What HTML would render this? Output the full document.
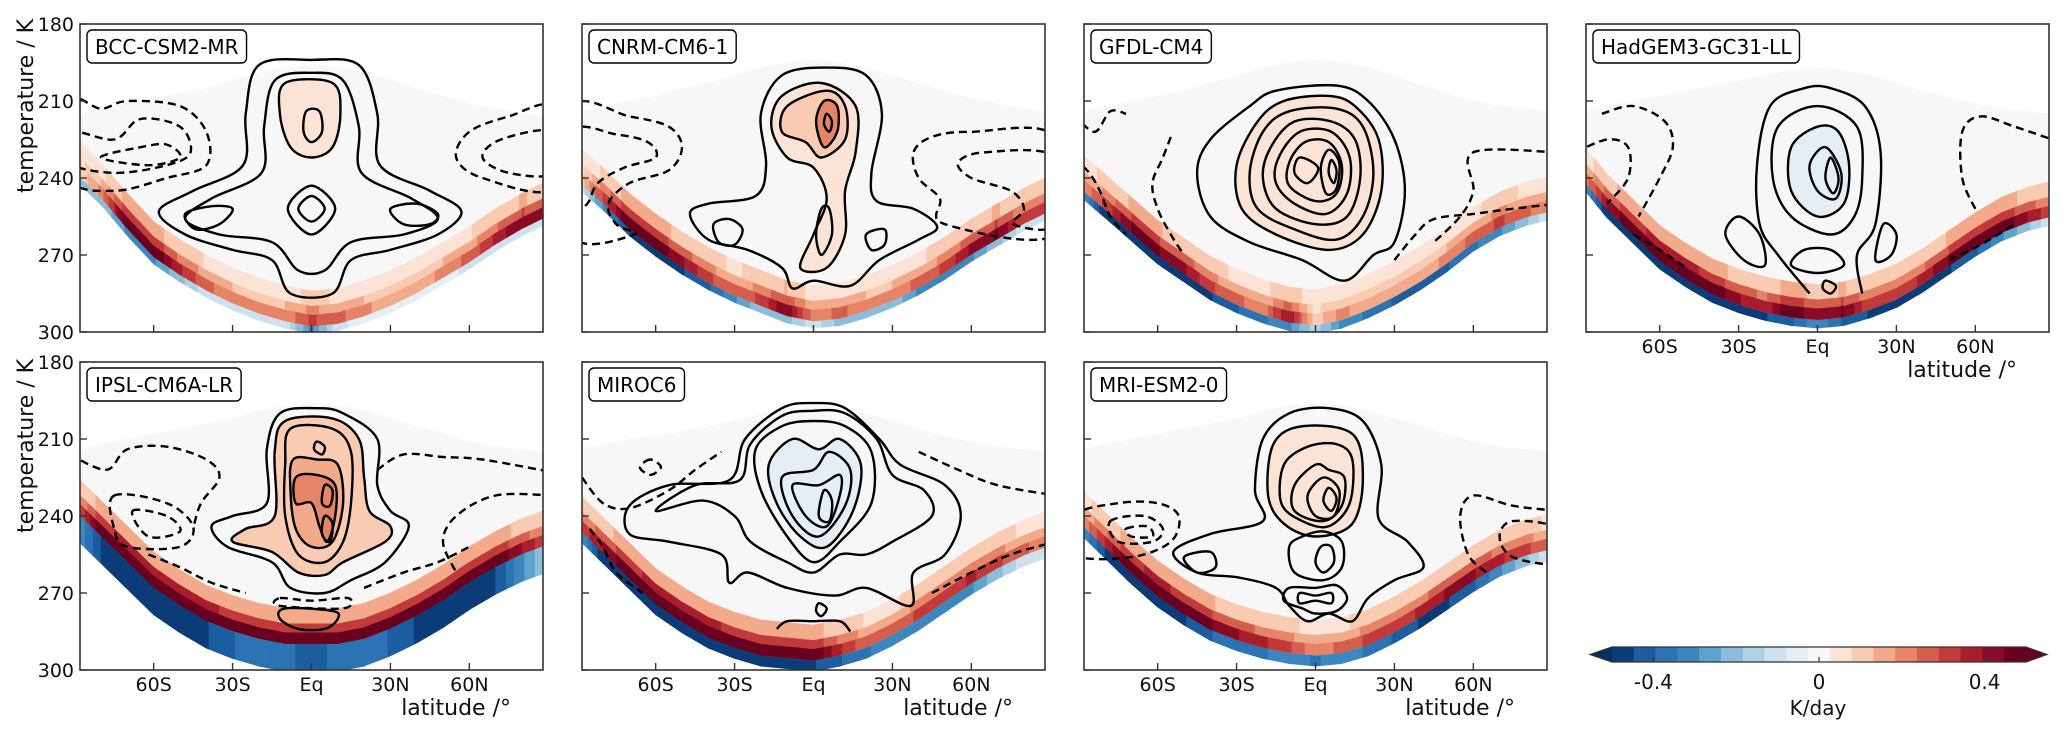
<!DOCTYPE html>
<html><head><meta charset="utf-8"><title>Heating rate by latitude and temperature for seven climate models</title>
<style>
html,body{margin:0;padding:0;background:#fff;}
svg{display:block;font-family:"DejaVu Sans","Liberation Sans",sans-serif;}
</style></head>
<body>
<svg id="fig" width="2067" height="737" viewBox="0 0 2067 737" xmlns="http://www.w3.org/2000/svg"></svg>
<script>
// ===== shared axes data =====
const lats = [-88,-80,-70,-60,-50,-40,-30,-20,-10,0,10,20,30,40,50,60,70,80,88];
const yTickValues = [180,210,240,270,300];
const xTickValues = [-60,-30,0,30,60];
const xTickLabels = ["60S","30S","Eq","30N","60N"];
const cbarTickValues = [-0.4,0,0.4];
const cbarTickLabels = ["-0.4","0","0.4"];
const binColors = ['#0b3c77','#1c5d9f','#2c73b3','#3d87bf','#5ea3cd','#8bbdda','#aed1e5','#cde2ee','#e4eef4','#f7f7f7','#fbe3d6','#f8cbb2','#f2aa8a','#e58467','#d45f4e','#c13b3a','#a91d2d','#8a0b25','#6a0020'];

// ===== BCC-CSM2-MR =====
const bccSurf = [242,250,262,273,280,286,291,295,298,300,299,296,292,287,281,275,268,262,258];
const bccTop  = [215,213,211,209,207,205,202,199,197,196,197,199,202,205,208,211,213,215,216];
const bccRed  = [0.1,0.2,0.5,0.5,0.35,0.25,0.2,0.2,0.2,0.3,0.25,0.2,0.15,0.15,0.2,0.25,0.35,0.45,0.4];
const bccBlue = [-0.2,-0.2,-0.3,-0.3,-0.2,-0.1,-0.1,-0.1,-0.1,-0.3,-0.1,-0.05,-0.05,-0.05,-0.05,-0.1,-0.1,-0.1,-0.1];
const bccSolid = [
 [[-20,196],[-25,215],[-26,235],[-45,245],[-58,253],[-48,262],[-30,268],[-15,272],[-8,285],[8,285],[15,272],[30,268],[48,262],[57,253],[45,245],[26,235],[25,215],[18,196],[0,194]],
 [[-14,202],[-18,220],[-19,238],[-38,248],[-48,256],[-35,262],[-15,265],[-5,276],[5,276],[15,265],[35,262],[48,256],[38,248],[19,238],[18,220],[12,202],[0,199]],
 [[-10,203],[-12,215],[-8,228],[0,232],[8,228],[11,215],[8,203]],
 [[-2,214],[-3,222],[0,226],[4,222],[3,214]],
 [[0,243],[-9,252],[0,262],[9,252]],
 [[0,247],[-5,252],[0,257],[5,252]],
 [[-48,254],[-44,260],[-35,258],[-30,252],[-38,251]],
 [[30,252],[35,258],[45,258],[48,254],[40,250]]];
const bccDashed = [
 [[-92,210],[-80,213],[-70,210],[-50,212],[-40,222],[-40,235],[-55,240],[-75,245],[-92,240]],
 [[-92,222],[-75,225],[-65,217],[-50,220],[-46,230],[-55,235],[-75,238],[-92,234]],
 [[-80,232],[-65,228],[-55,227],[-50,232],[-62,235]],
 [[92,213],[75,216],[60,222],[55,232],[65,240],[92,244]],
 [[92,222],[72,225],[65,232],[75,238],[92,238]]];
const bccFill = [[2,0.06]];

// ===== CNRM-CM6-1 =====
const cnrmSurf = [245,252,262,270,277,283,288,292,296,298,297,294,290,285,279,272,266,260,256];
const cnrmTop  = [214,212,210,208,205,203,200,197,195,194,195,197,200,203,206,209,211,213,214];
const cnrmRed  = [0.1,0.3,0.5,0.5,0.4,0.3,0.25,0.3,0.45,0.2,0.25,0.2,0.2,0.25,0.3,0.4,0.45,0.3,0.3];
const cnrmBlue = [-0.1,-0.3,-0.45,-0.45,-0.45,-0.4,-0.3,-0.2,-0.2,-0.1,-0.2,-0.2,-0.2,-0.3,-0.3,-0.3,-0.2,-0.1,-0.1];
const cnrmSolid = [
 [[5,197],[-12,200],[-20,215],[-18,235],[-22,247],[-40,250],[-47,254],[-40,264],[-25,268],[-12,275],[-8,283],[0,280],[14,282],[25,272],[40,264],[47,259],[38,252],[24,249],[22,238],[26,215],[20,200]],
 [[3,203],[-12,208],[-16,220],[-10,232],[0,236],[5,248],[0,262],[-5,275],[5,275],[12,262],[12,245],[16,230],[16,212]],
 [[-10,212],[-12,222],[-3,226],[3,232],[12,225],[12,212],[5,206]],
 [[4,210],[1,218],[4,228],[9,222],[9,212]],
 [[5,215],[4,219],[6,222],[7,218]],
 [[3,252],[1,262],[3,270],[7,262],[6,252]],
 [[-38,258],[-36,265],[-30,266],[-27,260],[-32,256]],
 [[20,262],[22,268],[27,266],[27,260]]];
const cnrmDashed = [
 [[-92,213],[-70,216],[-55,220],[-50,228],[-55,237],[-70,242],[-78,250],[-75,258],[-68,262],[-92,262]],
 [[-92,222],[-75,223],[-63,226],[-60,232],[-72,236],[-82,242],[-86,250],[-92,252]],
 [[92,224],[60,222],[45,224],[38,230],[40,240],[48,248],[50,258],[92,262]],
 [[92,232],[65,230],[55,234],[60,240],[75,245],[80,252],[76,258],[92,258]]];
const cnrmFill = [[1,0.06],[2,0.12],[3,0.2]];

// ===== GFDL-CM4 =====
const gfdlSurf = [248,255,264,273,280,287,292,296,299,300,298,294,289,283,276,268,262,258,256];
const gfdlTop  = [214,212,210,208,206,203,200,197,195,194,195,197,200,204,207,210,212,213,214];
const gfdlRed  = [0.2,0.3,0.45,0.45,0.4,0.3,0.25,0.2,0.4,0.1,0.2,0.15,0.15,0.15,0.2,0.25,0.3,0.25,0.2];
const gfdlBlue = [-0.3,-0.5,-0.5,-0.5,-0.5,-0.45,-0.4,-0.35,-0.3,-0.15,-0.3,-0.35,-0.4,-0.4,-0.4,-0.35,-0.3,-0.2,-0.1];
const gfdlSolid = [
 [[-15,206],[-25,212],[-40,225],[-45,238],[-40,255],[-25,265],[-5,272],[11,280],[22,270],[30,265],[34,245],[30,225],[20,210],[8,204]],
 [[-12,210],[-22,218],[-30,235],[-28,252],[-15,262],[5,268],[18,262],[25,245],[24,225],[15,212],[5,208]],
 [[-10,214],[-20,222],[-25,238],[-22,252],[-8,260],[8,264],[18,255],[22,238],[18,220],[8,213]],
 [[-8,218],[-17,228],[-20,240],[-15,252],[0,258],[12,255],[17,240],[15,225],[6,218]],
 [[-6,222],[-14,232],[-15,242],[-8,250],[4,254],[12,246],[13,232],[6,222]],
 [[-4,226],[-10,234],[-10,243],[0,249],[8,246],[10,235],[5,226]],
 [[-6,232],[-8,238],[-3,242],[1,236]],
 [[5,229],[2,236],[4,246],[8,244],[9,234]],
 [[6,233],[5,238],[7,242],[8,237]]];
const gfdlDashed = [
 [[-92,215],[-84,222],[-78,214],[-72,215]],
 [[-92,232],[-86,238],[-82,245],[-78,255],[-72,262]],
 [[-55,224],[-58,232],[-62,242],[-60,252],[-55,262],[-50,270]],
 [[30,272],[38,262],[45,256],[60,254],[75,252],[92,250]],
 [[92,230],[60,230],[60,245],[55,255],[45,265]]];
const gfdlFill = [[1,0.06]];

// ===== HadGEM3-GC31-LL =====
const hadSurf = [245,255,265,275,282,288,292,295,297,298,297,294,290,284,277,270,264,260,258];
const hadTop  = [214,212,210,208,206,204,202,200,198,197,198,200,203,206,209,211,213,214,215];
const hadRed  = [0.2,0.4,0.5,0.55,0.55,0.5,0.4,0.35,0.5,0.4,0.45,0.3,0.3,0.35,0.45,0.5,0.5,0.4,0.3];
const hadBlue = [-0.3,-0.5,-0.5,-0.5,-0.5,-0.5,-0.5,-0.45,-0.4,-0.3,-0.4,-0.45,-0.5,-0.5,-0.45,-0.4,-0.3,-0.2,-0.1];
const hadSolid = [
 [[0,212],[-15,220],[-17,240],[-10,255],[5,262],[14,255],[17,240],[15,220]],
 [[0,220],[-10,228],[-10,245],[0,255],[10,250],[12,235],[8,222]],
 [[3,228],[-3,235],[0,245],[7,248],[9,238]],
 [[5,232],[3,240],[6,246],[8,240]],
 [[-30,255],[-35,262],[-28,272],[-20,274],[-22,262]],
 [[-5,268],[-10,274],[0,277],[10,274],[5,268]],
 [[3,280],[2,283],[5,285],[7,282]],
 [[25,258],[22,272],[28,270],[30,262]]];
const hadSolidOpen = [
 [[-3,285],[-15,270],[-22,258],[-23,235],[-18,212],[-5,205],[5,205],[18,212],[24,230],[22,258],[15,270],[17,285]]];
const hadDashed = [
 [[-82,215],[-70,212],[-58,218],[-55,228],[-60,240],[-68,255]],
 [[-92,230],[-80,225],[-72,228],[-72,240],[-80,250]],
 [[-70,262],[-60,268],[-50,275]],
 [[60,252],[55,240],[55,222],[62,216],[75,220],[92,226]],
 [[50,272],[62,266],[75,258]]];
const hadFill = [[1,-0.06]];

// ===== IPSL-CM6A-LR =====
const ipslSurf = [250,258,268,278,285,291,295,298,300,300,300,298,294,289,283,276,270,265,262];
const ipslTop  = [214,212,210,208,206,204,202,199,197,196,197,199,202,205,208,211,213,214,215];
const ipslRed  = [0.3,0.5,0.55,0.55,0.55,0.55,0.5,0.5,0.5,0.45,0.5,0.5,0.5,0.5,0.5,0.5,0.5,0.4,0.3];
const ipslBlue = [-0.3,-0.45,-0.5,-0.5,-0.5,-0.45,-0.4,-0.35,-0.35,-0.45,-0.35,-0.35,-0.4,-0.45,-0.5,-0.5,-0.45,-0.3,-0.2];
const ipslSolid = [
 [[-12,200],[-17,214],[-17,235],[-30,240],[-38,244],[-32,252],[-15,258],[-8,268],[5,270],[15,265],[28,258],[37,244],[30,238],[25,228],[25,210],[12,200],[2,198]],
 [[-10,203],[-14,215],[-14,240],[-25,245],[-30,250],[-15,254],[-5,262],[5,263],[12,258],[28,250],[30,244],[22,238],[20,225],[18,210],[8,202]],
 [[-8,206],[-10,220],[-10,240],[-5,255],[5,258],[12,250],[15,235],[15,215],[8,206]],
 [[-7,218],[-8,230],[-6,245],[0,252],[8,250],[12,235],[10,220],[2,218]],
 [[-6,225],[-6,235],[0,235],[3,244],[6,250],[9,240],[9,228],[2,224]],
 [[2,211],[1,214],[4,216],[5,213]],
 [[5,228],[4,235],[7,236],[8,230]],
 [[5,240],[4,247],[7,250],[8,243]],
 [[-10,276],[-12,280],[-5,284],[5,284],[10,280],[8,277]]];
const ipslDashed = [
 [[-75,232],[-55,235],[-45,244],[-50,252],[-70,252],[-75,245]],
 [[-68,238],[-55,240],[-50,246],[-62,248]],
 [[-12,272],[0,273],[14,272],[12,276],[-12,275]]];
const ipslDashedOpen = [
 [[-92,216],[-78,222],[-70,214],[-55,213],[-40,218],[-35,225],[-42,235],[-45,245]],
 [[25,222],[35,216],[50,217],[65,218],[92,223]],
 [[92,232],[70,232],[55,240],[50,250],[55,262]],
 [[-62,255],[-50,260],[-38,266],[-25,270]],
 [[20,268],[35,262],[48,258],[60,252]]];
const ipslFill = [[1,0.1],[3,0.17],[4,0.23]];

// ===== MIROC6 =====
const mirocSurf = [250,258,268,278,285,291,295,298,299,300,298,295,290,284,277,270,264,259,256];
const mirocTop  = [214,212,210,209,207,205,203,200,198,197,198,200,203,206,209,211,213,214,215];
const mirocRed  = [0.3,0.4,0.5,0.55,0.55,0.55,0.5,0.5,0.5,0.5,0.35,0.25,0.25,0.3,0.3,0.35,0.3,0.25,0.2];
const mirocBlue = [-0.3,-0.5,-0.5,-0.5,-0.5,-0.5,-0.5,-0.5,-0.5,-0.45,-0.4,-0.35,-0.3,-0.3,-0.3,-0.3,-0.2,-0.1,-0.1];
const mirocSolid = [
 [[-70,236],[-55,228],[-32,226],[-26,210],[-12,198],[0,196],[12,198],[25,210],[33,220],[50,228],[56,240],[50,255],[38,262],[37,275],[20,268],[8,271],[-10,268],[-25,262],[-32,266],[-35,255],[-55,250],[-70,247]],
 [[-60,238],[-42,234],[-30,240],[-24,250],[-10,258],[0,262],[10,255],[20,255],[30,250],[45,240],[42,230],[30,224],[24,210],[12,200],[0,199],[-12,201],[-24,212],[-28,226],[-45,228]],
 [[-22,214],[-20,230],[-10,248],[0,258],[10,250],[22,235],[22,215],[12,205],[0,203],[-12,205]],
 [[-17,220],[-14,235],[-5,248],[5,252],[15,238],[18,220],[10,210],[2,214],[-8,210]],
 [[-12,225],[-8,240],[2,248],[12,236],[14,222],[6,215],[0,222]],
 [[-8,228],[-3,240],[5,244],[10,232],[10,224],[2,228]],
 [[4,230],[2,240],[6,242],[7,234]],
 [[2,274],[1,277],[3,279],[5,276]]];
const mirocSolidOpen = [ [[-14,284],[-10,281],[0,281],[10,281],[14,285]] ];
const mirocDashed = [ [[-62,218],[-66,221],[-62,224],[-58,221]] ];
const mirocDashedOpen = [
 [[-88,225],[-80,235],[-70,237],[-55,230],[-45,222],[-35,215]],
 [[-85,245],[-80,252],[-75,262],[-65,270]],
 [[40,215],[55,222],[70,228],[92,232]],
 [[45,270],[60,262],[75,255],[92,250]]];
const mirocFill = [[3,-0.07],[4,-0.07]];

// ===== MRI-ESM2-0 =====
const mriSurf = [248,256,266,275,282,288,292,295,297,298,297,294,289,283,276,269,263,259,257];
const mriTop  = [214,212,210,208,206,204,202,199,197,196,197,199,202,205,208,211,213,214,215];
const mriRed  = [0.2,0.35,0.5,0.55,0.5,0.45,0.4,0.35,0.3,0.2,0.25,0.3,0.3,0.35,0.4,0.4,0.35,0.3,0.25];
const mriBlue = [-0.3,-0.45,-0.5,-0.5,-0.45,-0.4,-0.35,-0.35,-0.3,-0.35,-0.3,-0.35,-0.4,-0.45,-0.45,-0.4,-0.3,-0.2,-0.1];
const mriSolid = [
 [[-10,200],[-20,210],[-23,230],[-20,242],[-40,247],[-54,254],[-45,262],[-29,264],[-15,268],[-10,275],[-3,281],[5,278],[14,281],[20,272],[30,265],[41,260],[35,250],[24,241],[25,220],[18,203],[5,198]],
 [[-5,205],[-16,212],[-18,232],[-12,243],[0,248],[14,243],[18,225],[14,208]],
 [[-3,213],[-12,220],[-13,235],[-5,242],[5,244],[13,235],[14,218],[8,212]],
 [[0,220],[-8,228],[-8,238],[3,242],[10,236],[11,225],[5,222]],
 [[3,225],[-3,232],[0,240],[7,240],[9,230]],
 [[5,229],[3,234],[6,238],[8,233]],
 [[-5,248],[-10,252],[-8,262],[3,265],[10,260],[10,250],[3,246]],
 [[2,252],[0,258],[3,262],[7,258],[6,252]],
 [[-50,256],[-45,262],[-38,260],[-40,254]],
 [[-10,268],[-12,273],[-5,276],[0,278],[8,277],[12,272],[8,267],[0,268]],
 [[-6,270],[-6,274],[0,273],[6,274],[6,270],[0,271]]];
const mriDashed = [
 [[-92,240],[-75,235],[-60,235],[-52,240],[-55,250],[-70,256],[-92,255]],
 [[-78,242],[-65,240],[-58,245],[-62,250],[-75,250]],
 [[-72,245],[-64,244],[-62,248],[-70,248]],
 [[92,245],[75,242],[70,248],[75,256],[92,258]]];
const mriDashedOpen = [ [[92,238],[75,236],[60,232],[55,240],[58,255],[65,262]] ];
const mriFill = [[1,0.06]];

// ===== layout (not data) =====
const PW = 463, PH = 308;
const colX = [80,582,1084,1586];
const rowY = [24,362];
const panels = [
 {name:"BCC-CSM2-MR", key:"bcc", col:0,row:0, surf:bccSurf, top:bccTop, red:bccRed, blue:bccBlue, solid:bccSolid, dashed:bccDashed, fill:bccFill, blueThick:2},
 {name:"CNRM-CM6-1", key:"cnrm", col:1,row:0, surf:cnrmSurf, top:cnrmTop, red:cnrmRed, blue:cnrmBlue, solid:cnrmSolid, dashed:cnrmDashed, fill:cnrmFill, blueThick:2},
 {name:"GFDL-CM4", key:"gfdl", col:2,row:0, surf:gfdlSurf, top:gfdlTop, red:gfdlRed, blue:gfdlBlue, solid:gfdlSolid, dashedOpen:gfdlDashed, fill:gfdlFill, blueThick:2.5},
 {name:"HadGEM3-GC31-LL", key:"hadgem", col:3,row:0, surf:hadSurf, top:hadTop, red:hadRed, blue:hadBlue, solid:hadSolid, solidOpen:hadSolidOpen, dashedOpen:hadDashed, fill:hadFill, blueThick:2.5, xlabels:true},
 {name:"IPSL-CM6A-LR", key:"ipsl", col:0,row:1, surf:ipslSurf, top:ipslTop, red:ipslRed, blue:ipslBlue, solid:ipslSolid, dashed:ipslDashed, dashedOpen:ipslDashedOpen, fill:ipslFill, blueThick:10, xlabels:true},
 {name:"MIROC6", key:"miroc", col:1,row:1, surf:mirocSurf, top:mirocTop, red:mirocRed, blue:mirocBlue, solid:mirocSolid, solidOpen:mirocSolidOpen, dashed:mirocDashed, dashedOpen:mirocDashedOpen, fill:mirocFill, blueThick:3.5, xlabels:true},
 {name:"MRI-ESM2-0", key:"mri", col:2,row:1, surf:mriSurf, top:mriTop, red:mriRed, blue:mriBlue, solid:mriSolid, dashed:mriDashed, dashedOpen:mriDashedOpen, fill:mriFill, blueThick:3.5, xlabels:true}
];

const NS = "http://www.w3.org/2000/svg";
const svg = document.getElementById('fig');
function mk(tag, attrs, parent){
  const e = document.createElementNS(NS, tag);
  for (const k in attrs) e.setAttribute(k, attrs[k]);
  (parent||svg).appendChild(e);
  return e;
}
function colorFor(v){
  let i = Math.floor((v + 0.5) * 19);
  if (i < 0) i = 0; if (i > 18) i = 18;
  return binColors[i];
}
function interp(arr, lat){
  for (let i=0;i<lats.length-1;i++){
    if (lat>=lats[i] && lat<=lats[i+1]){
      const t=(lat-lats[i])/(lats[i+1]-lats[i]);
      return arr[i]+(arr[i+1]-arr[i])*t;
    }
  }
  return lat<lats[0]?arr[0]:arr[arr.length-1];
}
function smoothPath(pts, closed){
  const n = pts.length;
  const g = i => closed ? pts[(i+n)%n] : pts[Math.max(0,Math.min(n-1,i))];
  let d = `M${pts[0][0].toFixed(1)},${pts[0][1].toFixed(1)}`;
  const segs = closed ? n : n-1;
  for (let i=0;i<segs;i++){
    const p0=g(i-1), p1=g(i), p2=g(i+1), p3=g(i+2);
    const c1=[p1[0]+(p2[0]-p0[0])/6, p1[1]+(p2[1]-p0[1])/6];
    const c2=[p2[0]-(p3[0]-p1[0])/6, p2[1]-(p3[1]-p1[1])/6];
    d += ` C${c1[0].toFixed(1)},${c1[1].toFixed(1)} ${c2[0].toFixed(1)},${c2[1].toFixed(1)} ${p2[0].toFixed(1)},${p2[1].toFixed(1)}`;
  }
  if (closed) d += ' Z';
  return d;
}

const defs = mk('defs', {});
panels.forEach((p, pi) => {
  const L = colX[p.col], T0 = rowY[p.row];
  const xs = lat => L + (lat + 88) / 176 * PW;
  const ys = t => T0 + (t - 180) / 120 * PH;
  const cp = mk('clipPath', {id:'clip'+pi}, defs);
  mk('rect', {x:L, y:T0, width:PW, height:PH}, cp);

  const g = mk('g', {'clip-path':`url(#clip${pi})`});
  
  

  const fine = [];
  for (let la=-88; la<=88; la+=1) fine.push(la);
  let dg = '';
  fine.forEach((la,i)=>{ dg += (i?'L':'M') + xs(la).toFixed(1)+','+ys(interp(p.top,la)).toFixed(1); });
  for (let i=fine.length-1;i>=0;i--) dg += 'L'+xs(fine[i]).toFixed(1)+','+ys(interp(p.surf,fine[i])).toFixed(1);
  const bg = mk('path', {d:dg+'Z', fill:'#f7f7f7'}, g);
  
  

  const layers = [
    {a:14, b:0, f:0.3, src:'red'},
    {a:8, b:0, f:0.65, src:'red'},
    {a:4.5, b:0.3, f:1.0, src:'red'},
    {a:p.blueThick, b:-0.5, f:1.0, src:'blue', noOff:true}
  ];
  const bandG = mk('g', {}, g);
  
  
  layers.forEach(ly=>{
    for (let i=0;i<fine.length-1;i++){
      const la1=fine[i], la2=fine[i+1];
      const off = ly.noOff ? 0 : p.blueThick;
      const s1=interp(p.surf,la1), s2=interp(p.surf,la2);
      const v = interp(ly.src==='red'?p.red:p.blue, (la1+la2)/2) * ly.f;
      const c = colorFor(v);
      const pts = [[xs(la1),ys(s1-off-ly.a)],[xs(la2),ys(s2-off-ly.a)],[xs(la2),ys(s2-off-ly.b)],[xs(la1),ys(s1-off-ly.b)]];
      const q = mk('polygon', {points:pts.map(q=>q[0].toFixed(1)+','+q[1].toFixed(1)).join(' '), fill:c, stroke:c, 'stroke-width':0.6}, bandG);
      
      
    }
  });

  (p.fill||[]).forEach(f=>{
    const pts = p.solid[f[0]].map(q=>[xs(q[0]),ys(q[1])]);
    const e = mk('path', {d:smoothPath(pts,true), fill:colorFor(f[1]), stroke:'none'}, g);
    
    
  });

  const drawSet = (set, closed, dashed, nm) => (set||[]).forEach(c=>{
    const pts = c.map(q=>[xs(q[0]),ys(q[1])]);
    const e = mk('path', {d:smoothPath(pts,closed), fill:'none', stroke:'#000', 'stroke-width':2.4, 'stroke-linejoin':'round', 'stroke-dasharray':dashed?'8,5':'none'}, g);
    
    
  });
  drawSet(p.solid, true, false, '-solid-contour');
  drawSet(p.solidOpen, false, false, '-solid-contour');
  drawSet(p.dashed, true, true, '-dashed-contour');
  drawSet(p.dashedOpen, false, true, '-dashed-contour');

  const fr = mk('rect', {x:L, y:T0, width:PW, height:PH, fill:'none', stroke:'#333', 'stroke-width':1.6});
  
  

  yTickValues.forEach(t=>{
    const tk = mk('line', {x1:L, x2:L+7, y1:ys(t), y2:ys(t), stroke:'#333', 'stroke-width':1.4});
    
    
    if (p.col===0){
      const tl = mk('text', {x:L-6, y:ys(t)+7, 'text-anchor':'end', 'font-size':19, fill:'#111'});
      tl.textContent = t;
      
      
    }
  });
  xTickValues.forEach((v,i)=>{
    const tk = mk('line', {x1:xs(v), x2:xs(v), y1:T0+PH, y2:T0+PH-7, stroke:'#333', 'stroke-width':1.4});
    
    
    if (p.xlabels){
      const tl = mk('text', {x:xs(v), y:T0+PH+21, 'text-anchor':'middle', 'font-size':19, fill:'#111'});
      tl.textContent = xTickLabels[i];
      
      
    }
  });
  if (p.xlabels){
    const xt = mk('text', {x:L+PW-32, y:T0+PH+45, 'text-anchor':'end', 'font-size':22, fill:'#111'});
    xt.textContent = 'latitude /°';
    
    
  }
  if (p.col===0){
    const cy = p.row===0 ? 106 : 446;
    const yt = mk('text', {x:0, y:0, transform:`translate(33,${cy}) rotate(-90)`, 'text-anchor':'middle', 'font-size':22, fill:'#111'});
    yt.textContent = 'temperature / K';
    
    
  }
  const lg = mk('g', {});
  
  
  const box = mk('rect', {x:L+7, y:T0+6, width:100, height:33, rx:5, ry:5, fill:'#fff', stroke:'#000', 'stroke-width':1.4}, lg);
  const tx = mk('text', {x:L+15, y:T0+30, 'font-size':20, fill:'#000'}, lg);
  tx.textContent = p.name;
  box.setAttribute('width', tx.getComputedTextLength()+16);
});

// ===== colorbar =====
const cbL=1612, cbR=2026, cbT=647, cbB=662;
const cb = mk('g', {});


const bw = (cbR-cbL)/binColors.length;
binColors.forEach((c,i)=>{
  const r = mk('rect', {x:cbL+i*bw, y:cbT, width:bw+0.5, height:cbB-cbT, fill:c}, cb);
  
  
});
const la = mk('polygon', {points:`${cbL},${cbT} 1590,${(cbT+cbB)/2} ${cbL},${cbB}`, fill:'#053061'}, cb);


const ra = mk('polygon', {points:`${cbR},${cbT} 2047,${(cbT+cbB)/2} ${cbR},${cbB}`, fill:'#67001f'}, cb);


mk('polygon', {points:`${cbL},${cbT} ${cbR},${cbT} 2047,${(cbT+cbB)/2} ${cbR},${cbB} ${cbL},${cbB} 1590,${(cbT+cbB)/2}`, fill:'none', stroke:'#333', 'stroke-width':1.2}, cb);
cbarTickValues.forEach((v,i)=>{
  const x = cbL + (v+0.5)*19*bw;
  mk('line', {x1:x, x2:x, y1:cbB, y2:cbB-5, stroke:'#333', 'stroke-width':1.2}, cb);
  const t = mk('text', {x:x, y:689, 'text-anchor':'middle', 'font-size':20, fill:'#111'}, cb);
  t.textContent = cbarTickLabels[i];
  
  
});
const cbt = mk('text', {x:1818, y:715, 'text-anchor':'middle', 'font-size':20, fill:'#111'}, cb);
cbt.textContent = 'K/day';


</script>
</body></html>
